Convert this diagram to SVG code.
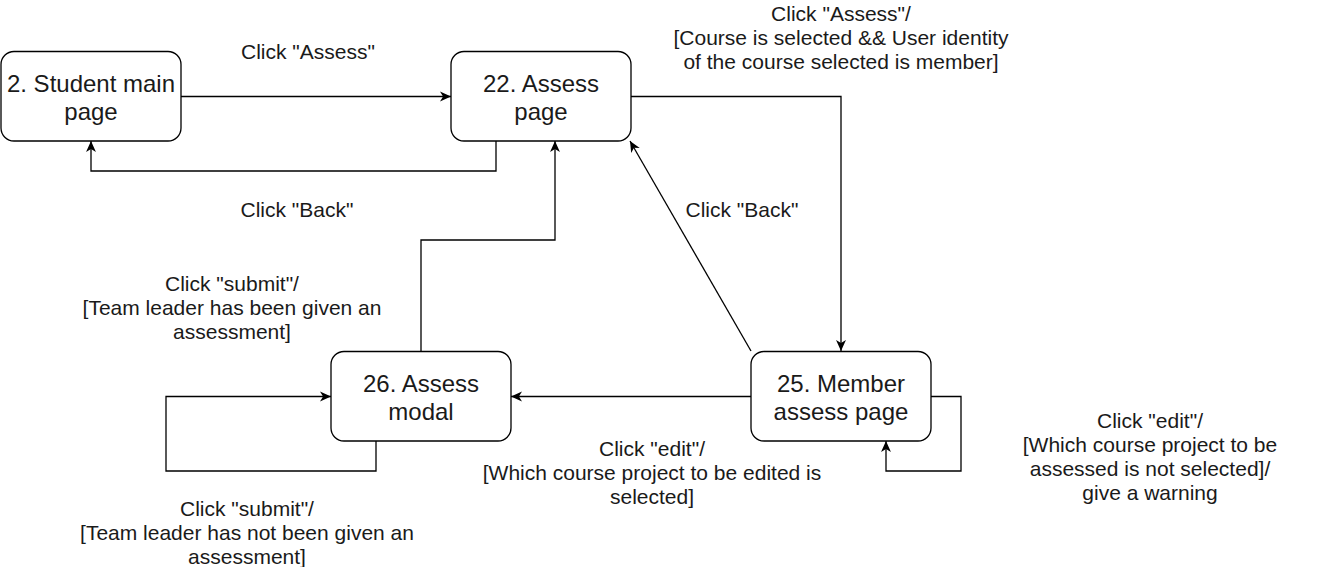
<svg xmlns="http://www.w3.org/2000/svg" width="1322" height="567" viewBox="0 0 1322 567">
<style>
.node rect{fill:#fff;stroke:#000;stroke-width:1.3}
.nt{font-family:"Liberation Sans",Arial,sans-serif;font-size:24px;fill:#1a1a1a;text-anchor:middle}
.lb{font-family:"Liberation Sans",Arial,sans-serif;font-size:21px;fill:#1a1a1a;text-anchor:middle}
.edge{fill:none;stroke:#000;stroke-width:1.3}
</style>
<defs>
<marker id="arr" viewBox="0 0 10 10" refX="10" refY="5" markerWidth="11" markerHeight="11" markerUnits="userSpaceOnUse" orient="auto">
<path d="M0,0.5 L10,5 L0,9.5 L2.8,5 Z" fill="#000"/>
</marker>
</defs>
<rect width="1322" height="567" fill="#fff"/>
<g id="connectors">
<path class="edge" d="M181,96.5 H451" marker-end="url(#arr)"/>
<path class="edge" d="M496,141 V171 H91 V141" marker-end="url(#arr)"/>
<path class="edge" d="M421,351 V240 H555 V141" marker-end="url(#arr)"/>
<path class="edge" d="M631,96.5 H841 V351" marker-end="url(#arr)"/>
<path class="edge" d="M751,351 L630,141" marker-end="url(#arr)"/>
<path class="edge" d="M751,396.5 H511" marker-end="url(#arr)"/>
<path class="edge" d="M931,396.5 H961 V471 H886 V441" marker-end="url(#arr)"/>
<path class="edge" d="M376,441 V471 H166 V396.5 H331" marker-end="url(#arr)"/>
</g>
<g id="labels">
<text class="lb" x="308" y="59">Click "Assess"</text>
<text class="lb" x="297" y="217">Click "Back"</text>
<text class="lb" x="742" y="217">Click "Back"</text>
<text class="lb" x="841" y="21">Click "Assess"/</text>
<text class="lb" x="841" y="45">[Course is selected &amp;&amp; User identity</text>
<text class="lb" x="841" y="69">of the course selected is member]</text>
<text class="lb" x="232" y="291">Click "submit"/</text>
<text class="lb" x="232" y="315">[Team leader has been given an</text>
<text class="lb" x="232" y="339">assessment]</text>
<text class="lb" x="247" y="516">Click "submit"/</text>
<text class="lb" x="247" y="540">[Team leader has not been given an</text>
<text class="lb" x="247" y="564">assessment]</text>
<text class="lb" x="652" y="456">Click "edit"/</text>
<text class="lb" x="652" y="480">[Which course project to be edited is</text>
<text class="lb" x="652" y="504">selected]</text>
<text class="lb" x="1150" y="428">Click "edit"/</text>
<text class="lb" x="1150" y="452">[Which course project to be</text>
<text class="lb" x="1150" y="476">assessed is not selected]/</text>
<text class="lb" x="1150" y="500">give a warning</text>
</g>
<g id="n2" class="node">
<rect x="1" y="51.5" width="180" height="89.5" rx="13" ry="13"/>
<text class="nt" x="91" y="92">2. Student main</text>
<text class="nt" x="91" y="120">page</text>
</g>
<g id="n22" class="node">
<rect x="451" y="51.5" width="180" height="89.5" rx="13" ry="13"/>
<text class="nt" x="541" y="92">22. Assess</text>
<text class="nt" x="541" y="120">page</text>
</g>
<g id="n26" class="node">
<rect x="331" y="351.5" width="180" height="89.5" rx="13" ry="13"/>
<text class="nt" x="421" y="392">26. Assess</text>
<text class="nt" x="421" y="420">modal</text>
</g>
<g id="n25" class="node">
<rect x="751" y="351.5" width="180" height="89.5" rx="13" ry="13"/>
<text class="nt" x="841" y="392">25. Member</text>
<text class="nt" x="841" y="420">assess page</text>
</g>
</svg>
